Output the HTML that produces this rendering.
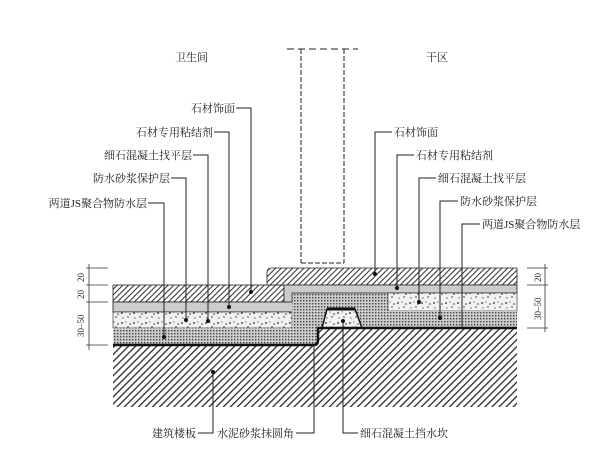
<!DOCTYPE html>
<html><head><meta charset="utf-8"><style>
html,body{margin:0;padding:0;background:#fff;width:615px;height:468px;overflow:hidden}
text{font-family:"Liberation Serif","Noto Serif CJK SC",serif;font-size:11px;fill:#222}
</style></head><body>
<svg width="615" height="468" viewBox="0 0 615 468" xmlns="http://www.w3.org/2000/svg">
<defs>
<pattern id="h" width="5" height="5" patternUnits="userSpaceOnUse" patternTransform="rotate(45)">
<rect width="5" height="5" fill="#fff"/><line x1="0.6" y1="0" x2="0.6" y2="5" stroke="#222" stroke-width="1.3"/></pattern>
<pattern id="hs" width="4" height="4" patternUnits="userSpaceOnUse" patternTransform="rotate(45)">
<rect width="4" height="4" fill="#fff"/><line x1="0.5" y1="0" x2="0.5" y2="4" stroke="#333" stroke-width="1.1"/></pattern>
<pattern id="d" width="3" height="3" patternUnits="userSpaceOnUse">
<rect width="3" height="3" fill="#ccc"/><rect width="1.4" height="1.4" fill="#444"/></pattern>
<pattern id="sp" width="12" height="10" patternUnits="userSpaceOnUse">
<rect width="12" height="10" fill="#f2f2f2"/><circle cx="2" cy="3" r="0.9" fill="#222"/><circle cx="8" cy="7" r="0.7" fill="#222"/><circle cx="6" cy="2" r="0.6" fill="#444"/><circle cx="10" cy="4" r="0.8" fill="#333"/><circle cx="3" cy="8" r="0.6" fill="#333"/></pattern>
</defs>
<line x1="287" y1="49" x2="358" y2="49" stroke="#222" stroke-width="1" stroke-dasharray="7,4"/>
<line x1="301" y1="49" x2="301" y2="263" stroke="#222" stroke-width="1" stroke-dasharray="5,2"/>
<line x1="344" y1="49" x2="344" y2="263" stroke="#222" stroke-width="1" stroke-dasharray="5,2"/>
<line x1="301" y1="263" x2="344" y2="263" stroke="#222" stroke-dasharray="5,2"/>
<text x="175" y="61">卫生间</text>
<text x="426" y="61">干区</text>
<path d="M113,345 L318,345 L318,328 L517,328 L517,407 L113,407 Z" fill="url(#h)"/>
<rect x="113" y="285" width="171" height="17" fill="url(#hs)" stroke="#222" stroke-width="0.8"/>
<rect x="113" y="302" width="180" height="10" fill="#ccc" stroke="#222" stroke-width="0.8"/>
<rect x="113" y="312" width="179" height="16" fill="url(#sp)" stroke="#222" stroke-width="0.6"/>
<rect x="113" y="328" width="205" height="17" fill="url(#d)"/>
<rect x="292" y="293" width="96" height="35" fill="url(#d)"/>
<path d="M272,268 L517,268 L517,285 L267,285 L267,273 Q267,268 272,268 Z" fill="url(#hs)" stroke="#222" stroke-width="0.8"/>
<path d="M284,285 L517,285 L517,293 L292,293 L292,302 L284,302 Z" fill="#ccc" stroke="#222" stroke-width="0.8"/>
<rect x="388" y="293" width="129" height="18" fill="url(#sp)" stroke="#222" stroke-width="0.6"/>
<rect x="357" y="311" width="160" height="17" fill="url(#d)"/>
<path d="M322,328 L327,309 L355,309 L362,328 Z" fill="url(#sp)" stroke="#111" stroke-width="1.5"/>
<line x1="327" y1="309" x2="355" y2="309" stroke="#111" stroke-width="3"/>
<path d="M113,345 L314,345 Q318,345 318,340 L318,328 L517,328" fill="none" stroke="#111" stroke-width="2.5"/>
<g stroke="#222" stroke-width="1" fill="none">
<path d="M236,108 H251 V292"/><path d="M214,132 H229 V307"/><path d="M193,155 H208 V321"/><path d="M171,178 H186 V320"/><path d="M148,203 H164 V337"/>
<path d="M392,132 H375 V274"/><path d="M414,155 H397 V288"/><path d="M436,178 H419 V302"/><path d="M458,201 H440 V318"/><path d="M480,224 H462 V328"/>
<path d="M198,433 H213 V372"/><path d="M296,433 H314 V345"/><path d="M358,433 H343 V321"/>
</g>
<g fill="#111"><circle cx="251" cy="292" r="2"/><circle cx="229" cy="307" r="2"/><circle cx="208" cy="321" r="2"/><circle cx="186" cy="320" r="2"/><circle cx="164" cy="337" r="2"/>
<circle cx="375" cy="274" r="2"/><circle cx="397" cy="288" r="2"/><circle cx="419" cy="302" r="2"/><circle cx="440" cy="318" r="2"/><circle cx="213" cy="372" r="2"/><circle cx="343" cy="321" r="2"/></g>
<g text-anchor="end"><text x="235" y="112">石材饰面</text><text x="213" y="136">石材专用粘结剂</text><text x="192" y="159">细石混凝土找平层</text><text x="170" y="182">防水砂浆保护层</text><text x="147" y="207">两道JS聚合物防水层</text><text x="196" y="437">建筑楼板</text><text x="294" y="437">水泥砂浆抹圆角</text></g>
<text x="394" y="136">石材饰面</text><text x="416" y="159">石材专用粘结剂</text><text x="438" y="182">细石混凝土找平层</text><text x="460" y="205">防水砂浆保护层</text><text x="482" y="228">两道JS聚合物防水层</text><text x="360" y="437">细石混凝土挡水坎</text>
<g stroke="#333" stroke-width="0.8">
<line x1="89" y1="264" x2="89" y2="350"/><line x1="86" y1="268" x2="108" y2="268"/><line x1="86" y1="285" x2="108" y2="285"/><line x1="86" y1="302" x2="108" y2="302"/><line x1="86" y1="345" x2="108" y2="345"/>
<line x1="545" y1="264" x2="545" y2="332"/><line x1="527" y1="268" x2="548" y2="268"/><line x1="527" y1="285" x2="548" y2="285"/><line x1="527" y1="328" x2="548" y2="328"/>
</g>
<g><text transform="translate(84,282) rotate(-90)" style="font-size:9px">20</text><text transform="translate(84,299) rotate(-90)" style="font-size:9px">20</text><text transform="translate(84,337) rotate(-90)" style="font-size:9px">30–50</text>
<text transform="translate(541,282) rotate(-90)" style="font-size:9px">20</text><text transform="translate(541,320) rotate(-90)" style="font-size:9px">30–50</text></g>
</svg>
</body></html>
